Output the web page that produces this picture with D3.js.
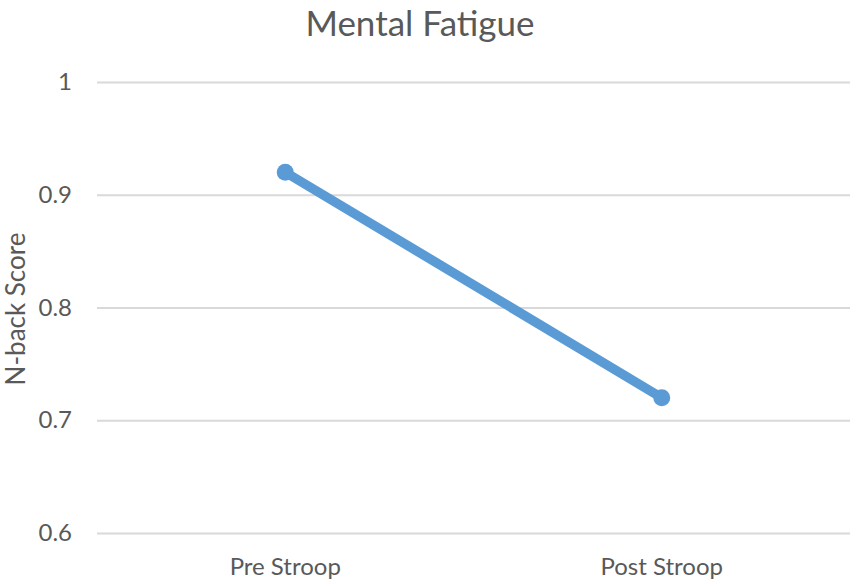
<!DOCTYPE html>
<html><head><meta charset="utf-8">
<script src="https://cdn.jsdelivr.net/npm/d3@7"></script>
<style>body{margin:0;background:#fff;} text{font-family:Lato,"Open Sans",sans-serif;fill:#595959;}</style>
</head><body>
<svg id="c" width="854" height="583"></svg>
<script>
const categories = ["Pre Stroop", "Post Stroop"];
const values = [0.92, 0.72];
const yTicks = [0.6, 0.7, 0.8, 0.9, 1];
const title = "Mental Fatigue";
const yLabel = "N-back Score";

const svg = d3.select("#c");
const m = {left: 97, right: 4, top: 82, bottom: 50};
const W = 854, H = 583;
const x = d3.scaleBand().domain(categories).range([m.left, W - m.right]);
const y = d3.scaleLinear().domain([0.6, 1]).range([H - m.bottom, m.top]);

const yAxis = svg.append("g").attr("transform", `translate(${m.left},0)`)
  .call(d3.axisLeft(y).tickValues(yTicks).tickSize(-(W - m.left - m.right)).tickPadding(25)
  .tickFormat(d => d === 1 ? "1" : d3.format(".1f")(d)));
yAxis.select(".domain").remove();
yAxis.selectAll("line").attr("stroke", "#d9d9d9").attr("stroke-width", 2);
yAxis.selectAll("text").attr("font-size", 24).style("fill", "#595959");

const xAxis = svg.append("g").attr("transform", `translate(0,${H - m.bottom})`)
  .call(d3.axisBottom(x).tickSize(0).tickPadding(25));
xAxis.select(".domain").remove();
xAxis.selectAll("text").attr("font-size", 24).style("fill", "#595959");

const line = d3.line().x((d, i) => x(categories[i]) + x.bandwidth() / 2).y(d => y(d));
svg.append("path").datum(values).attr("d", line).attr("fill", "none")
  .attr("stroke", "#5b9bd5").attr("stroke-width", 9.5).attr("stroke-linecap", "round");
svg.selectAll("circle.pt").data(values).join("circle").attr("class", "pt")
  .attr("cx", (d, i) => x(categories[i]) + x.bandwidth() / 2).attr("cy", d => y(d))
  .attr("r", 8.5).attr("fill", "#5b9bd5");

svg.append("text").attr("x", 420).attr("y", 36).attr("text-anchor", "middle")
  .attr("font-size", 35).text(title);
svg.append("text").attr("transform", `translate(25,309) rotate(-90)`)
  .attr("text-anchor", "middle").attr("font-size", 26).text(yLabel);
</script>
</body></html>
